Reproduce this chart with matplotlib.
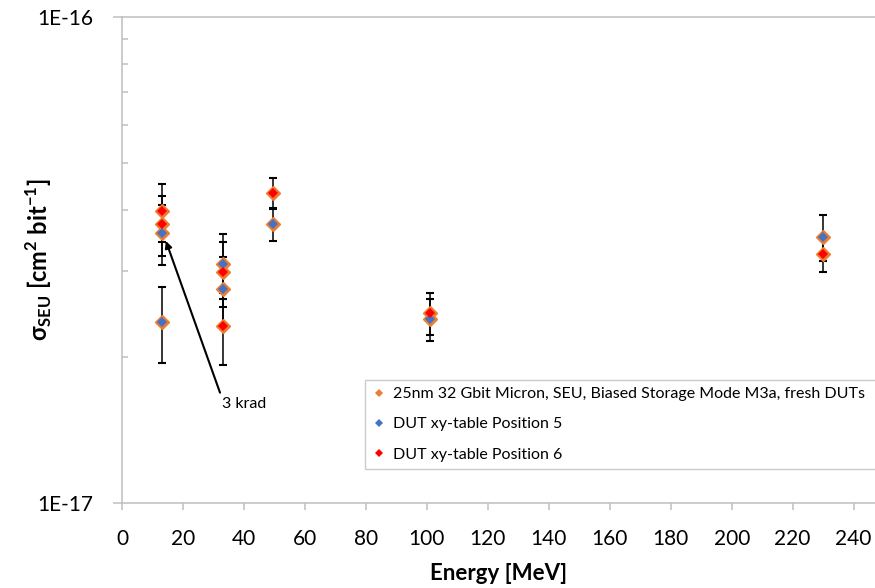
import numpy as np
import matplotlib
matplotlib.use('Agg')
import matplotlib.pyplot as plt
from matplotlib.ticker import FixedLocator, FixedFormatter, LogLocator, NullFormatter

plt.rcParams['font.family'] = ['Lato', 'DejaVu Sans']
plt.rcParams['mathtext.fontset'] = 'custom'
plt.rcParams['mathtext.rm'] = 'Lato'
plt.rcParams['mathtext.bf'] = 'Lato:bold'
plt.rcParams['mathtext.fallback'] = 'stixsans'

# all measurements (orange series), in 1E-17 cm2/bit
energy_all = [13, 13, 13, 13, 33, 33, 33, 33, 49.5, 49.5, 101, 101, 230, 230]
sigma_all = [3.99, 3.75, 3.60, 2.36, 3.10, 2.99, 2.76, 2.31, 4.34, 3.75, 2.46, 2.39, 3.53, 3.25]
err_all = [0.55, 0.53, 0.51, 0.42, 0.47, 0.46, 0.45, 0.39, 0.32, 0.29, 0.24, 0.24, 0.38, 0.26]

# DUT at xy-table position 5
energy_p5 = [13, 13, 33, 33, 49.5, 101, 230]
sigma_p5 = [3.60, 2.36, 3.10, 2.76, 3.75, 2.39, 3.53]

# DUT at xy-table position 6
energy_p6 = [13, 13, 33, 33, 49.5, 101, 230]
sigma_p6 = [3.99, 3.75, 2.99, 2.31, 4.34, 2.46, 3.25]

labels = ['25nm 32 Gbit Micron, SEU, Biased Storage Mode M3a, fresh DUTs',
          'DUT xy-table Position 5',
          'DUT xy-table Position 6']
x_ticks = list(range(0, 241, 20))

scale = 1e-17
grey = '#BFBFBF'

fig = plt.figure(figsize=(8.75, 5.88), dpi=100)
ax = fig.add_axes([0.1394, 0.1446, 0.8606, 0.8265])

ax.errorbar(energy_all, np.array(sigma_all) * scale, yerr=np.array(err_all) * scale,
            fmt='D', color='#ED7D31', ms=7, mec='#ED7D31', ecolor='black',
            elinewidth=1.1, capsize=3, capthick=1.5, zorder=2)
ax.plot(energy_p5, np.array(sigma_p5) * scale, 'D', color='#4472C4', ms=5, mew=0, zorder=3)
ax.plot(energy_p6, np.array(sigma_p6) * scale, 'D', color='#FF0000', ms=5, mew=0, zorder=3)

# legend handles: plain small diamonds
h = [plt.Line2D([], [], ls='none', marker='D', ms=4.5, mew=0, color=c)
     for c in ['#ED7D31', '#4472C4', '#FF0000']]
leg = ax.legend(h, labels, loc='upper left', bbox_to_anchor=(0.3227, 0.0, 0.72, 0.2531),
                mode='expand', bbox_transform=ax.transAxes, fontsize=11.5, frameon=True,
                fancybox=False, edgecolor=grey, handlelength=0.8, handletextpad=0.5,
                labelspacing=1.0, borderaxespad=0, borderpad=0.45)
leg.get_frame().set_linewidth(1.0)

ax.annotate('3 krad', xy=(14.4, 3.46e-17), xytext=(32.8, 1.6e-17), ha='left', va='center',
            fontsize=11.5,
            arrowprops=dict(arrowstyle='-|>', color='black', lw=1.5, shrinkA=1, shrinkB=0,
                            relpos=(0, 0.9), mutation_scale=10))

ax.set_yscale('log')
ax.set_ylim(1e-17, 1e-16)
ax.set_xlim(0, 247)

ax.yaxis.set_major_locator(FixedLocator([1e-17, 1e-16]))
ax.yaxis.set_major_formatter(FixedFormatter(['1E-17', '1E-16']))
ax.yaxis.set_minor_locator(LogLocator(base=10, subs=np.arange(2, 10)))
ax.yaxis.set_minor_formatter(NullFormatter())
ax.set_xticks(x_ticks)

for s in ['left', 'bottom', 'top']:
    ax.spines[s].set_color(grey)
    ax.spines[s].set_linewidth(1.1)
ax.spines['right'].set_visible(False)

ax.tick_params(axis='y', which='major', direction='out', length=6.5, width=1.1, color=grey,
               labelsize=15, pad=14)
ax.tick_params(axis='y', which='minor', direction='in', length=4.5, width=1.1, color=grey)
ax.tick_params(axis='x', which='major', direction='out', length=5, width=1.1, color=grey,
               labelsize=15, pad=14)

ax.set_xlabel('Energy [MeV]', fontsize=16, fontweight='bold', labelpad=10)
ax.set_ylabel(r'$\mathbf{\sigma_{SEU}}$ [cm$^\mathbf{2}$ bit$^\mathbf{-1}$]', fontsize=17,
              fontweight='bold')
ax.yaxis.set_label_coords(-0.090, 0.5)

fig.savefig('out.png', dpi=100)
